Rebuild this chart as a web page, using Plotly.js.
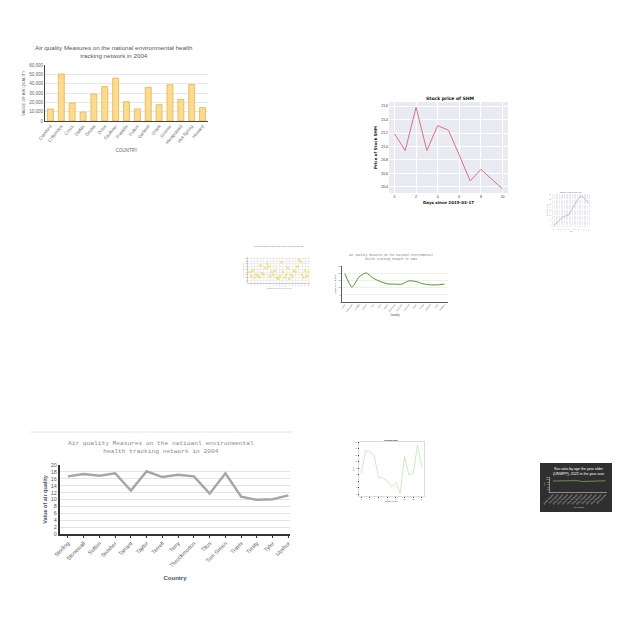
<!DOCTYPE html>
<html><head><meta charset="utf-8">
<script src="https://cdn.plot.ly/plotly-3.0.1.min.js"></script>
<style>html,body{margin:0;padding:0;background:#fff}</style>
</head><body><div id="chart" style="width:640px;height:640px"></div>
<script>
// ---- Chart 1: bar chart (Arkansas counties) ----
const c1Counties = ["Crawford","Crittenden","Cross","Dallas","Desha","Drew","Faulkner","Franklin","Fulton","Garland","Grant","Greene","Hempstead","Hot Spring","Howard"];
const c1Values = [12900,50400,19300,9600,28900,36800,46000,20700,12900,36000,17500,38900,23200,39300,14300];
const c1Ticks = [0,10000,20000,30000,40000,50000,60000];
// ---- Chart 2: stock price ----
const c2Days = [0,1,2,3,4,5,6,7,8,9,10];
const c2Price = [21.19,20.94,21.58,20.94,21.31,21.24,20.87,20.49,20.66,20.52,20.37];
const c2Ticks = [20.4,20.6,20.8,21.0,21.2,21.4,21.6];
// ---- Chart 3: small line ----
const c3X = [0,1,2,3,4,5,6,7,8,9,10,11,12,13,14];
const c3Y = [0,2.2,4.4,6.6,8.8,9.5,10.1,14.2,18.3,22.4,26.2,28.1,26.8,23.7,21.8];
// ---- Chart 4: scatter ----
const c4X = [1,2,3,4,5,6,7,8,9,10,11,12,13,14,15,16,17,18,19,20,21,22,23,24,25,26,27,28,29,30,31,32,33,34,35,36,37,38];
const c4Y = [40,25,45,20,30,28,22,65,35,30,55,70,60,25,40,30,45,20,15,25,75,40,20,30,55,15,30,25,45,40,60,85,78,30,20,45,25,40];
// ---- Chart 5: green line ----
const c5Counties = ["Lamb","Lampasas","La Salle","Lavaca","Lee","Leon","Liberty","Limestone","Lipscomb","Live Oak","Llano","Loving","Lubbock","Lynn","Madison"];
const c5Values = [19.7,10.3,17.4,20.2,16.5,14.2,12.6,12.4,12.4,14.7,14.2,12.6,11.9,11.9,12.4];
// ---- Chart 6: gray line (Texas counties) ----
const c6Counties = ["Sterling","Stonewall","Sutton","Swisher","Tarrant","Taylor","Terrell","Terry","Throckmorton","Titus","Tom Green","Travis","Trinity","Tyler","Upshur"];
const c6Values = [16.7,17.4,16.9,17.6,12.6,18.2,16.5,17.2,16.7,11.7,17.6,10.8,9.9,10.1,11.2];
// ---- Chart 7: light green line ----
const c7X = [0,1,2,3,4,5,6,7,8,9,10,11,12,13,14];
const c7Y = [6.4,13.3,12.9,11.9,5.2,5.0,4.2,2.3,3.7,0.3,11.6,6.0,6.4,15.0,8.3];
// ---- Chart 8: dark chart ----
const c8Groups = ["Under 5 years","5 to 14 years","15 to 24 years","25 to 34 years","35 to 44 years","45 to 54 years","55 to 64 years","65 to 74 years","75 to 84 years","85 to 94 years","95 to 99 years","100 and over"];
const c8Ratio = [88,88,89,89,90,91,84,86,88,84,87,90];

const X = p => p/640, Y = p => 1 - p/640;
const traces = [
  {type:'bar', x:c1Counties, y:c1Values, xaxis:'x', yaxis:'y', width:0.55,
   marker:{color:'#fbdb8f', line:{color:'#e8b44a', width:0.8}}},
  {type:'scatter', mode:'lines', x:c2Days, y:c2Price, xaxis:'x2', yaxis:'y2',
   line:{color:'#d8737c', width:1}},
  {type:'scatter', mode:'lines', x:c3X, y:c3Y, xaxis:'x3', yaxis:'y3',
   line:{color:'#a7aee0', width:0.8}},
  {type:'scatter', mode:'markers', x:c4X, y:c4Y, xaxis:'x4', yaxis:'y4',
   marker:{color:'#f1e07e', size:2.6}},
  {type:'scatter', mode:'lines', x:c5Counties, y:c5Values, xaxis:'x5', yaxis:'y5',
   line:{color:'#5a8f2e', width:1, shape:'spline', smoothing:0.6}},
  {type:'scatter', mode:'lines', x:c6Counties, y:c6Values, xaxis:'x6', yaxis:'y6',
   line:{color:'#a6a6a6', width:2.5}},
  {type:'scatter', mode:'lines', x:c7X, y:c7Y, xaxis:'x7', yaxis:'y7',
   line:{color:'#bfe6b6', width:0.8}},
  {type:'scatter', mode:'lines', x:c8Groups, y:c8Ratio, xaxis:'x8', yaxis:'y8',
   line:{color:'#7aa85a', width:0.8}}
];
const tf = (s,c,f) => ({size:s, color:c||'#666', family:f||'Liberation Sans, Arial, sans-serif'});
const ann = (text, px, py, font) => ({text:text, x:X(px), y:Y(py), xref:'paper', yref:'paper',
  xanchor:'center', yanchor:'middle', showarrow:false, font:font});
const layout = {
  width:640, height:640, margin:{l:0,r:0,t:0,b:0}, showlegend:false,
  paper_bgcolor:'#fff', plot_bgcolor:'rgba(0,0,0,0)',
  // chart 1
  xaxis:{domain:[X(45),X(208)], anchor:'y', type:'category', tickangle:-50, tickfont:tf(4.5),
    showline:true, linecolor:'#444', linewidth:1, ticks:'', showgrid:false,
    title:{text:'COUNTRY', font:tf(4.5), standoff:4}},
  yaxis:{domain:[Y(121),Y(65)], anchor:'x', range:[0,60000], tickvals:c1Ticks, tickformat:',',
    tickfont:tf(4.5), gridcolor:'#e8e8e8', showline:true, linecolor:'#444', linewidth:1, zeroline:false,
    title:{text:'VALUE OF AIR QUALITY', font:tf(4), standoff:3}},
  // chart 2
  xaxis2:{domain:[X(389),X(508)], anchor:'y2', range:[-0.5,10.5], tickvals:[0,2,4,6,8,10],
    tickfont:tf(3.5,'#333'), gridcolor:'#fff', zeroline:false, ticks:'',
    title:{text:'Days since 2015-03-17', font:{size:4, color:'#111', family:'DejaVu Sans', weight:'bold'}, standoff:3}},
  yaxis2:{domain:[Y(193),Y(102)], anchor:'x2', range:[20.31,21.66], tickvals:c2Ticks, tickformat:'.1f',
    tickfont:tf(3.5,'#333'), gridcolor:'#fff', zeroline:false, ticks:'',
    title:{text:'Price of Stock SHM', font:{size:4, color:'#111', family:'DejaVu Sans', weight:'bold'}, standoff:3}},
  // chart 3
  xaxis3:{domain:[X(552),X(590)], anchor:'y3', range:[-0.5,14.5], dtick:1, tickfont:tf(1.5,'#888'),
    gridcolor:'#fff', zeroline:false, ticks:'', title:{text:'Year', font:tf(1.8,'#888'), standoff:1}},
  yaxis3:{domain:[Y(227),Y(194)], anchor:'x3', range:[-1,30], dtick:5, tickfont:tf(1.5,'#888'),
    gridcolor:'#fff', zeroline:false, ticks:'', title:{text:'Number of days', font:tf(1.8,'#888'), standoff:1}},
  // chart 4
  xaxis4:{domain:[X(248),X(310)], anchor:'y4', range:[0,39], dtick:2, tickfont:tf(1.6,'#888'),
    gridcolor:'#eee', zeroline:false, showline:true, linecolor:'#999', linewidth:0.5,
    title:{text:'Number of the days in the year', font:tf(1.8,'#888'), standoff:1}},
  yaxis4:{domain:[Y(283),Y(257)], anchor:'x4', range:[0,95], dtick:10, tickfont:tf(1.6,'#888'),
    gridcolor:'#eee', zeroline:false, showline:true, linecolor:'#999', linewidth:0.5,
    title:{text:'Value of air quality', font:tf(1.8,'#888'), standoff:1}},
  // chart 5
  xaxis5:{domain:[X(342),X(448)], anchor:'y5', type:'category', range:[-0.4,14.5], tickangle:-50,
    tickfont:tf(2,'#555'), showline:true, linecolor:'#333', linewidth:0.8, showgrid:false, ticks:'',
    title:{text:'Country', font:tf(2.6,'#333'), standoff:3}},
  yaxis5:{domain:[Y(302),Y(266)], anchor:'x5', range:[0,25], dtick:5, tickfont:tf(2.2,'#555'),
    gridcolor:'#eef3e2', showline:true, linecolor:'#333', linewidth:0.8, zeroline:false,
    title:{text:'Value of air quality', font:tf(2.4,'#333'), standoff:2}},
  // chart 6
  xaxis6:{domain:[X(60),X(290)], anchor:'y6', type:'category', range:[-0.5,14.1], tickangle:-45,
    tickfont:tf(5.5,'#595959','Liberation Sans'), showline:true, linecolor:'#333', linewidth:2,
    showgrid:false, ticks:'outside', ticklen:2, tickcolor:'#333',
    title:{text:'Country', font:{size:6, color:'#44546a', family:'Liberation Sans', weight:'bold'}, standoff:8}},
  yaxis6:{domain:[Y(534),Y(465)], anchor:'x6', range:[0,20], dtick:2, tickfont:tf(5.5,'#595959'),
    gridcolor:'#e3e3e3', showline:true, linecolor:'#333', linewidth:2, zeroline:false,
    title:{text:'Value of air quality', font:{size:5.5, color:'#44546a', family:'Liberation Sans', weight:'bold'}, standoff:3}},
  // chart 7
  xaxis7:{domain:[X(359),X(424)], anchor:'y7', range:[-0.5,14.5], dtick:2, tickfont:tf(1.8,'#555'),
    showgrid:false, zeroline:false, showline:true, mirror:true, linecolor:'#bbb', linewidth:0.5, ticks:'outside', ticklen:1,
    title:{text:'Number of days', font:tf(1.8,'#333'), standoff:1}},
  yaxis7:{domain:[Y(496),Y(442)], anchor:'x7', range:[-0.5,16], dtick:2, tickfont:tf(1.8,'#555'),
    showgrid:false, zeroline:false, showline:true, mirror:true, linecolor:'#bbb', linewidth:0.5, ticks:'outside', ticklen:1,
    title:{text:'Value', font:tf(1.8,'#333'), standoff:1}},
  // chart 8
  xaxis8:{domain:[X(550),X(607)], anchor:'y8', type:'category', range:[-0.6,11.3], tickangle:-45, tickfont:tf(2.2,'#ddd'),
    showline:true, linecolor:'#ccc', linewidth:0.6, showgrid:false, ticks:'',
    title:{text:'Age group', font:tf(2.4,'#ddd'), standoff:2}},
  yaxis8:{domain:[Y(492),Y(477)], anchor:'x8', range:[0,120], dtick:20, tickfont:tf(1.8,'#ddd'),
    showline:true, linecolor:'#ccc', linewidth:0.6, showgrid:false, zeroline:false,
    title:{text:'Ratio', font:tf(1.8,'#ddd'), standoff:1}},
  shapes:[
    {type:'rect', xref:'x2 domain', yref:'y2 domain', x0:0, x1:1, y0:0, y1:1, fillcolor:'#eaeaf2', line:{width:0}, layer:'below'},
    {type:'rect', xref:'x3 domain', yref:'y3 domain', x0:0, x1:1, y0:0, y1:1, fillcolor:'#eaeaf2', line:{width:0}, layer:'below'},
    {type:'rect', xref:'paper', yref:'paper', x0:X(540), x1:X(612), y0:Y(512), y1:Y(463), fillcolor:'#2f2f2f', line:{width:0}, layer:'below'},
    {type:'line', xref:'paper', yref:'paper', x0:X(30), x1:X(292), y0:Y(432), y1:Y(432), line:{color:'#e6e6e6', width:1}, layer:'below'}
  ],
  annotations:[
    ann('Air quality Measures on the national environmental health<br>tracking network in 2004', 114, 51, tf(6.2,'#555')),
    ann('<b>Stock price of SHM</b>', 450, 99, {size:4.5, color:'#111', family:'DejaVu Sans'}),
    ann('Number of days in the year', 571, 192, tf(1.8,'#666')),
    ann('Sum of the number of days in the year, by the days in the year', 279, 246, tf(1.8,'#666')),
    ann('Air quality Measures on the national environmental<br>health tracking network in 2004', 391, 257, tf(2.8,'#777','Liberation Mono, monospace')),
    ann('Air quality Measures on the natioanl environmental<br>health tracking network in 2004', 161, 447, tf(6.2,'#8a8a8a','Liberation Mono, monospace')),
    ann('<b>Pollution days</b>', 391, 440, tf(2,'#222')),
    ann('Sex ratio by age the year older<br>(UNWPP), 2022 in the year was', 578, 471, tf(3.6,'#fff'))
  ]
};
Plotly.newPlot('chart', traces, layout, {displayModeBar:false, staticPlot:true});
</script></body></html>
